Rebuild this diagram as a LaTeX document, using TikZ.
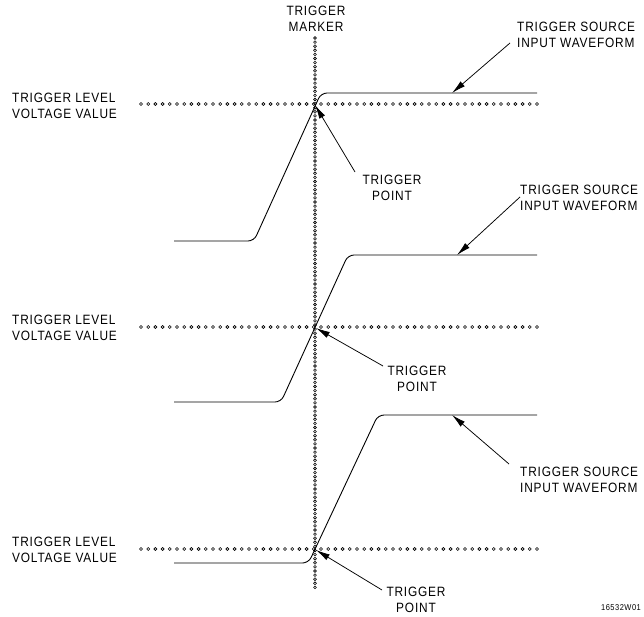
\documentclass[tikz,border=0pt]{standalone}
\usepackage{fontspec}
\setmainfont{Liberation Sans}[FakeStretch=0.88,LetterSpace=6]
\usetikzlibrary{arrows.meta}
\tikzset{
  lbl/.style={font=\fontsize{13.5}{16}\selectfont, inner sep=0pt},
  wave/.style={line width=0.9pt, rounded corners=6pt},
  ptr/.style={line width=0.75pt, -{Latex[length=14pt,width=6.5pt]}},
  dotc/.style={draw, line width=0.6pt}
}
\begin{document}
\begin{tikzpicture}[x=1pt,y=-1pt]
\useasboundingbox[fill=white] (0,0) rectangle (644,617);
% dotted trigger-level lines
\foreach \yy in {104,327,549}{
  \foreach \i in {0,...,55}{
    \draw[dotc] ({141+\i*7.2},\yy) circle (1.5pt);
  }
}
% trigger marker
\foreach \i in {0,...,134}{
  \draw[dotc] (315,{38+\i*4.1}) circle (1.4pt);
}
% labels
\node[lbl, align=center] (mk) at (316,18.5) {TRIGGER\\MARKER};
\node[lbl, align=left, anchor=west] (lv1) at (12,105.5) {TRIGGER LEVEL\\VOLTAGE VALUE};
\node[lbl, align=left, anchor=west] (lv2) at (12,327.5) {TRIGGER LEVEL\\VOLTAGE VALUE};
\node[lbl, align=left, anchor=west] (lv3) at (12,549.5) {TRIGGER LEVEL\\VOLTAGE VALUE};
\node[lbl, align=left, anchor=west] (src1) at (517,35) {TRIGGER SOURCE\\INPUT WAVEFORM};
\node[lbl, align=left, anchor=west] (src2) at (520,198) {TRIGGER SOURCE\\INPUT WAVEFORM};
\node[lbl, align=left, anchor=west] (src3) at (520,480) {TRIGGER SOURCE\\INPUT WAVEFORM};
\node[lbl, align=center] (tp1) at (392,188) {TRIGGER\\POINT};
\node[lbl, align=center] (tp2) at (417,379) {TRIGGER\\POINT};
\node[lbl, align=center] (tp3) at (416,600) {TRIGGER\\POINT};
\node[font=\fontsize{8.5}{10}\selectfont, inner sep=0pt] (code) at (621,608) {16532W01};
% waveforms
\coordinate (w1a) at (174,241);
\coordinate (w1b) at (537,93);
\draw[wave] (w1a) -- (254,241) -- (321,93) -- (w1b);
\coordinate (w2a) at (174,402);
\coordinate (w2b) at (537,255);
\draw[wave] (w2a) -- (281,402) -- (348,255) -- (w2b);
\coordinate (w3a) at (174,563);
\coordinate (w3b) at (537,415);
\draw[wave] (w3a) -- (308.5,563) -- (378,415) -- (w3b);
% arrow coordinates
\coordinate (a1s) at (510,43);  \coordinate (a1t) at (452,93);
\coordinate (a2s) at (520,197); \coordinate (a2t) at (457,255);
\coordinate (a3s) at (509,464); \coordinate (a3t) at (452,415);
\coordinate (p1s) at (355,172); \coordinate (p1t) at (315,105);
\coordinate (p2s) at (383,366); \coordinate (p2t) at (316,328);
\coordinate (p3s) at (382,590); \coordinate (p3t) at (316,550);
\draw[ptr] (a1s) -- (a1t);
\draw[ptr] (a2s) -- (a2t);
\draw[ptr] (a3s) -- (a3t);
\draw[ptr] (p1s) -- (p1t);
\draw[ptr] (p2s) -- (p2t);
\draw[ptr] (p3s) -- (p3t);
\end{tikzpicture}
\end{document}
